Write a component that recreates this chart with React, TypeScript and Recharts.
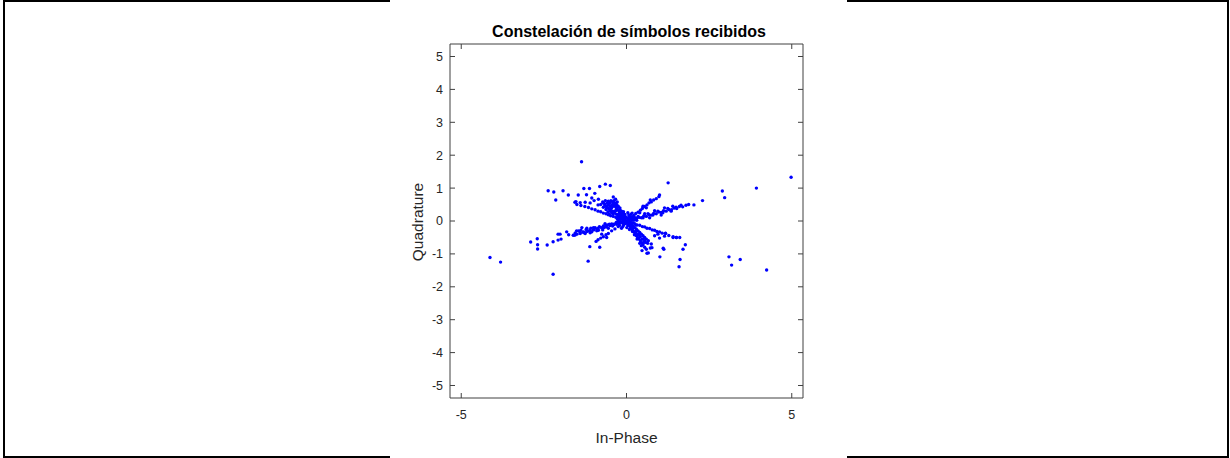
import { Scatter, ScatterChart, XAxis, YAxis } from "recharts";

type Pt = [number, number];

const TITLE = "Constelación de símbolos recibidos";
const X_LABEL = "In-Phase";
const Y_LABEL = "Quadrature";

const X_TICKS = [-5, 0, 5];
const Y_TICKS = [-5, -4, -3, -2, -1, 0, 1, 2, 3, 4, 5];

// isolated symbols far from the centre
const outliers: Pt[] = [
  [-1.36, 1.8], [4.98, 1.33], [3.93, 1.0], [1.26, 1.16], [2.9, 0.91], [2.97, 0.71],
  [2.3, 0.62], [2.04, 0.49], [-4.13, -1.11], [-3.81, -1.25], [-2.22, -1.62],
  [-1.16, -1.22], [3.1, -1.09], [3.18, -1.34], [3.44, -1.17], [4.24, -1.49],
  [1.59, -1.39], [1.62, -1.17], [1.01, -1.09], [-2.9, -0.64], [-2.7, -0.54],
  [-2.69, -0.72], [-2.69, -0.85], [-2.4, -0.73], [-2.22, -0.63],
];

const upperLeft: Pt[] = [
  [-2.37, 0.92], [-2.2, 0.88], [-1.92, 0.92], [-2.14, 0.64], [-1.76, 0.79],
  [-1.53, 0.59], [-1.46, 0.79], [-1.29, 0.99], [-1.12, 0.99], [-1.21, 0.8],
  [-0.96, 0.84], [-0.81, 1.05], [-0.64, 1.12], [-0.49, 1.08], [-0.4, 0.73],
  [-1.56, 0.57], [-1.4, 0.56], [-1.25, 0.57], [-1.1, 0.55], [-0.98, 0.62],
  [-1.05, 0.7], [-0.85, 0.66], [-0.86, 0.49],
];

const lowerLeft: Pt[] = [
  [-2.07, -0.4], [-2.01, -0.4], [-2.07, -0.58], [-1.98, -0.55], [-1.81, -0.33],
  [-1.56, -0.43], [-1.51, -0.3], [-1.61, -0.43], [-1.11, -0.78], [-0.81, -0.8],
  [-1.75, -0.42],
];

const shallowLeft: Pt[] = [
  [-1.45, -0.3], [-1.38, -0.28], [-1.3, -0.33], [-1.22, -0.26], [-1.15, -0.3],
  [-1.08, -0.22], [-1.0, -0.27], [-0.95, -0.2], [-0.88, -0.24], [-0.82, -0.17],
  [-0.75, -0.21], [-0.7, -0.15], [-0.62, -0.18], [-0.58, -0.12], [-0.5, -0.14],
  [-0.45, -0.09], [-0.38, -0.11], [-0.32, -0.06], [-0.25, -0.08], [-0.2, -0.03],
  [-1.25, -0.38], [-1.05, -0.33], [-0.9, -0.3], [-0.72, -0.27], [-0.55, -0.22],
  [-1.35, -0.2], [-0.65, -0.08], [-1.4, -0.35], [-1.2, -0.22], [-1.0, -0.2],
  [-0.85, -0.28], [-0.68, -0.2], [-0.52, -0.1], [-0.42, -0.15], [-0.3, -0.1],
  [-1.55, -0.36], [-1.1, -0.36],
];

const shallowLeftLow: Pt[] = [
  [-1.6, -0.43], [-1.5, -0.4], [-1.4, -0.38], [-1.3, -0.35], [-1.2, -0.32],
  [-1.1, -0.29], [-0.98, -0.26], [-0.86, -0.23], [-0.74, -0.2], [-0.62, -0.16],
  [-0.5, -0.13], [-0.4, -0.1], [-0.3, -0.08],
];

const shallowRight: Pt[] = [
  [0.22, 0.06], [0.3, 0.07], [0.38, 0.11], [0.45, 0.1], [0.52, 0.15], [0.6, 0.14],
  [0.68, 0.19], [0.75, 0.18], [0.82, 0.23], [0.9, 0.22], [0.98, 0.27], [1.05, 0.26],
  [1.12, 0.31], [1.2, 0.3], [1.28, 0.35], [1.36, 0.34], [1.44, 0.39], [1.52, 0.38],
  [1.6, 0.44], [1.7, 0.43], [1.8, 0.48], [1.88, 0.5], [0.55, 0.22], [0.85, 0.31],
  [1.15, 0.4], [1.4, 0.45], [1.05, 0.18], [0.7, 0.1], [0.35, 0.14], [0.5, 0.1],
  [0.65, 0.22], [0.8, 0.18], [0.95, 0.3], [1.1, 0.25], [1.25, 0.38], [1.35, 0.3],
  [1.5, 0.42], [1.65, 0.48],
];

const upRight: Pt[] = [
  [0.15, 0.12], [0.22, 0.17], [0.28, 0.23], [0.35, 0.27], [0.42, 0.33], [0.48, 0.38],
  [0.55, 0.44], [0.62, 0.49], [0.68, 0.55], [0.75, 0.58], [0.82, 0.64], [0.9, 0.68],
  [0.98, 0.74], [1.0, 0.79], [0.4, 0.25], [0.6, 0.4], [0.72, 0.64], [0.5, 0.45],
];

const downLeft: Pt[] = [
  [-0.25, -0.17], [-0.35, -0.24], [-0.45, -0.3], [-0.55, -0.38], [-0.62, -0.42],
  [-0.7, -0.48], [-0.78, -0.52], [-0.86, -0.57], [-0.92, -0.62], [-0.6, -0.5],
  [-0.75, -0.4],
];

const downRightShallow: Pt[] = [
  [0.25, -0.08], [0.32, -0.12], [0.4, -0.13], [0.48, -0.17], [0.55, -0.18],
  [0.62, -0.22], [0.7, -0.23], [0.78, -0.27], [0.85, -0.28], [0.92, -0.32],
  [1.0, -0.33], [1.08, -0.37], [1.18, -0.38], [1.28, -0.44], [1.41, -0.48],
  [1.51, -0.5], [1.61, -0.5], [0.95, -0.4], [1.15, -0.46], [0.85, -0.45],
  [1.0, -0.52],
];

const upLeftShallow: Pt[] = [
  [-0.25, 0.09], [-0.32, 0.11], [-0.4, 0.14], [-0.48, 0.16], [-0.55, 0.19],
  [-0.62, 0.22], [-0.7, 0.24], [-0.78, 0.28], [-0.86, 0.3], [-0.95, 0.34],
  [-1.05, 0.37], [-1.15, 0.41], [-1.26, 0.44], [-1.38, 0.47], [-1.5, 0.5],
];

const steepUp: Pt[] = [
  [-0.05, 0.07], [-0.1, 0.12], [-0.14, 0.17], [-0.18, 0.22], [-0.22, 0.28],
  [-0.26, 0.33], [-0.3, 0.38], [-0.33, 0.43], [-0.36, 0.48], [-0.4, 0.53],
  [-0.42, 0.58], [-0.3, 0.5], [-0.2, 0.4], [-0.25, 0.2], [-0.35, 0.3], [-0.45, 0.4],
  [-0.5, 0.45], [-0.55, 0.5], [-0.15, 0.3], [-0.1, 0.25], [-0.38, 0.62],
  [-0.28, 0.58], [-0.6, 0.4], [-0.65, 0.48], [-0.7, 0.55], [-0.5, 0.3], [-0.4, 0.22],
  [-0.12, 0.08], [-0.18, 0.12], [-0.24, 0.15], [-0.3, 0.2], [-0.36, 0.25],
  [-0.42, 0.3], [-0.48, 0.35], [-0.54, 0.38], [-0.6, 0.45], [-0.66, 0.52],
  [-0.72, 0.58], [-0.78, 0.5], [-0.7, 0.42], [-0.62, 0.35], [-0.56, 0.28],
  [-0.45, 0.48], [-0.5, 0.55], [-0.55, 0.6], [-0.35, 0.55], [-0.25, 0.45],
  [-0.2, 0.35], [-0.28, 0.4], [-0.4, 0.45], [-0.32, 0.32], [-0.22, 0.18],
  [-0.16, 0.14], [-0.08, 0.16], [-0.12, 0.22], [-0.45, 0.25], [-0.58, 0.55],
  [-0.47, 0.62], [-0.33, 0.66], [-0.64, 0.62], [-0.52, 0.2],
];

const steepDown: Pt[] = [
  [0.05, -0.08], [0.1, -0.14], [0.14, -0.2], [0.18, -0.26], [0.22, -0.32],
  [0.26, -0.38], [0.3, -0.45], [0.34, -0.5], [0.38, -0.55], [0.42, -0.6],
  [0.46, -0.66], [0.5, -0.72], [0.55, -0.8], [0.6, -0.86], [0.66, -0.97],
  [0.72, -0.82], [0.64, -0.68], [0.48, -0.55], [0.3, -0.3], [0.38, -0.42],
  [0.55, -0.6], [0.77, -0.81], [0.47, -0.9], [0.62, -0.98], [0.75, -0.7],
  [0.08, -0.1], [0.15, -0.1], [0.2, -0.15], [0.25, -0.2], [0.3, -0.25],
  [0.35, -0.3], [0.4, -0.35], [0.45, -0.4], [0.5, -0.45], [0.55, -0.5],
  [0.6, -0.55], [0.2, -0.2], [0.28, -0.35], [0.35, -0.4], [0.42, -0.48],
  [0.5, -0.55], [0.58, -0.65], [0.12, -0.22], [0.18, -0.32], [0.24, -0.42],
  [0.32, -0.55], [0.4, -0.68], [0.45, -0.75], [0.66, -0.6], [0.52, -0.65],
];

const lowerRight: Pt[] = [
  [1.13, -0.86], [1.71, -0.86], [1.78, -0.72], [1.11, -0.83], [1.41, -0.5],
  [1.51, -0.5], [1.18, -0.37],
];

const core: Pt[] = [
  [0, 0], [0.05, 0.02], [-0.04, 0.03], [0.03, -0.05], [-0.06, -0.02], [0.08, 0.05],
  [-0.08, 0.06], [0.06, -0.07], [-0.03, -0.08], [0.1, -0.02], [-0.1, 0.01],
  [0.02, 0.09], [-0.02, 0.12], [0.12, 0.08], [-0.12, -0.06], [0.14, -0.06],
  [-0.14, 0.1], [0.09, 0.13], [-0.07, 0.15], [0.16, 0.02], [-0.16, -0.02],
  [0.04, -0.14], [-0.09, -0.12], [0.18, 0.1], [-0.18, 0.05], [0.11, -0.11],
  [-0.05, 0.2], [0.2, -0.05], [-0.2, -0.07], [0.07, 0.18], [-0.13, 0.18],
  [0.15, -0.15], [-0.22, 0.12], [0.22, 0.14], [0.01, -0.2], [-0.11, -0.17],
  [0.24, 0.03], [-0.24, -0.01], [0.13, 0.2], [-0.17, 0.25], [0.27, 0.09],
  [-0.27, 0.05], [0.19, -0.21], [-0.21, -0.14], [0.04, 0.25], [-0.09, 0.28],
  [0.28, -0.12], [-0.3, -0.04], [0.17, 0.24], [0.09, -0.26], [-0.15, -0.22],
  [0.31, 0.02],
];

const groups = [
  outliers, upperLeft, lowerLeft, shallowLeft, shallowLeftLow, shallowRight, upRight,
  downLeft, downRightShallow, upLeftShallow, steepUp, steepDown, lowerRight, core,
];

const FONT = "'Liberation Sans', Arial, Helvetica, sans-serif";
const AXIS = "#404040";
const TEXT = "#262626";
const TICK = 5;

const dot = (p: any) => <circle cx={p.cx} cy={p.cy} r={1.7} fill="#0000ff" />;

// MATLAB-style ticks pointing into the plot box
const BottomTick = (p: any) => (
  <g>
    <line x1={p.x} x2={p.x} y1={p.y} y2={p.y - TICK} stroke={AXIS} />
    <text x={p.x} y={p.y + 21} textAnchor="middle" fill={TEXT} fontSize={12.5} fontFamily={FONT}>
      {p.payload.value}
    </text>
  </g>
);
const LeftTick = (p: any) => (
  <g>
    <line x1={p.x} x2={p.x + TICK} y1={p.y} y2={p.y} stroke={AXIS} />
    <text x={p.x - 7} y={p.y} dy="0.355em" textAnchor="end" fill={TEXT} fontSize={12.5} fontFamily={FONT}>
      {p.payload.value}
    </text>
  </g>
);
const TopTick = (p: any) => <line x1={p.x} x2={p.x} y1={p.y} y2={p.y + TICK} stroke={AXIS} />;
const RightTick = (p: any) => <line x1={p.x} x2={p.x - TICK} y1={p.y} y2={p.y} stroke={AXIS} />;

export default function App() {
  return (
    <div
      style={{
        position: "fixed",
        left: 0,
        top: 0,
        width: 1230,
        height: 458,
        background: "#fff",
        fontFamily: FONT,
      }}
    >
      {/* outer frame, interrupted by the pasted figure */}
      <div style={{ position: "absolute", left: 3, top: 0, width: 1226, height: 458, boxSizing: "border-box", border: "2px solid #000" }} />
      <div style={{ position: "absolute", left: 390, top: 0, width: 457, height: 458, background: "#fff" }} />

      <div style={{ position: "absolute", left: 390, top: 0 }}>
        <ScatterChart width={457} height={458} margin={{ top: 43, right: 43, bottom: 0, left: 0 }}>
          <XAxis
            xAxisId="b"
            type="number"
            dataKey="x"
            domain={[-5.34, 5.34]}
            ticks={X_TICKS}
            allowDataOverflow
            height={60}
            stroke={AXIS}
            tickLine={false}
            tickSize={0}
            tickMargin={0}
            tick={BottomTick}
          />
          <XAxis
            xAxisId="t"
            orientation="top"
            type="number"
            dataKey="x"
            domain={[-5.34, 5.34]}
            ticks={X_TICKS}
            allowDataOverflow
            height={1}
            stroke={AXIS}
            tickLine={false}
            tickSize={0}
            tickMargin={0}
            tick={TopTick}
          />
          <YAxis
            yAxisId="l"
            type="number"
            dataKey="y"
            domain={[-5.38, 5.38]}
            ticks={Y_TICKS}
            allowDataOverflow
            width={60}
            stroke={AXIS}
            tickLine={false}
            tickSize={0}
            tickMargin={0}
            tick={LeftTick}
          />
          <YAxis
            yAxisId="r"
            orientation="right"
            type="number"
            dataKey="y"
            domain={[-5.38, 5.38]}
            ticks={Y_TICKS}
            allowDataOverflow
            width={1}
            stroke={AXIS}
            tickLine={false}
            tickSize={0}
            tickMargin={0}
            tick={RightTick}
          />
          {groups.map((g, i) => (
            <Scatter
              key={i}
              xAxisId="b"
              yAxisId="l"
              data={g.map(([x, y]) => ({ x, y }))}
              shape={dot}
              isAnimationActive={false}
            />
          ))}
        </ScatterChart>
      </div>

      <svg width={1230} height={458} style={{ position: "absolute", left: 0, top: 0, pointerEvents: "none" }}>
        <text x={629} y={37} textAnchor="middle" fontSize={16} fontWeight="bold" fill="#000" fontFamily={FONT}>
          {TITLE}
        </text>
        <text x={626.5} y={442.5} textAnchor="middle" fontSize={15.5} fill={TEXT} fontFamily={FONT}>
          {X_LABEL}
        </text>
        <text
          x={0}
          y={0}
          transform="translate(423,222) rotate(-90)"
          textAnchor="middle"
          fontSize={15.5}
          fill={TEXT}
          fontFamily={FONT}
        >
          {Y_LABEL}
        </text>
      </svg>
    </div>
  );
}
